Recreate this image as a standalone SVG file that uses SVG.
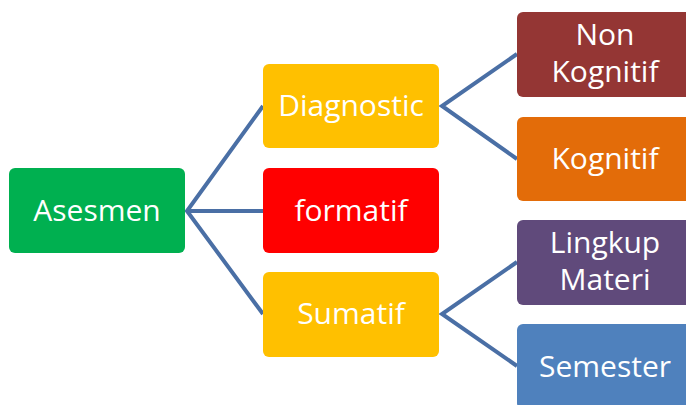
<svg xmlns="http://www.w3.org/2000/svg" width="686" height="405" viewBox="0 0 686 405">
<style>
.box{stroke:none}
.t{font-family:"Open Sans","Noto Sans","Liberation Sans",sans-serif;font-size:30px;fill:#ffffff;text-anchor:middle}
.c{stroke:#4a6fa5;stroke-width:4;fill:none;stroke-linejoin:miter}
</style>
<rect width="686" height="405" fill="#ffffff"/>
<g id="connectors">
<polyline class="c" points="263,106 187,211 263,314"/>
<line class="c" x1="187" y1="211" x2="263" y2="211"/>
<polyline class="c" points="517,54 442,106 517,159"/>
<polyline class="c" points="517,262 442,314 517,366"/>
</g>
<g id="asesmen"><rect class="box" x="9" y="168" width="176" height="85" rx="6" fill="#00b050"/><text class="t" x="97" y="221">Asesmen</text></g>
<g id="diagnostic"><rect class="box" x="263" y="64" width="176" height="84" rx="6" fill="#ffc000"/><text class="t" x="351" y="116">Diagnostic</text></g>
<g id="formatif"><rect class="box" x="263" y="168" width="176" height="85" rx="6" fill="#ff0000"/><text class="t" x="351" y="221">formatif</text></g>
<g id="sumatif"><rect class="box" x="263" y="272" width="176" height="85" rx="6" fill="#ffc000"/><text class="t" x="351" y="324">Sumatif</text></g>
<g id="nonkognitif"><rect class="box" x="517" y="12" width="176" height="85" rx="6" fill="#943634"/><text class="t" x="605" y="45">Non</text><text class="t" x="605" y="82">Kognitif</text></g>
<g id="kognitif"><rect class="box" x="517" y="117" width="176" height="84" rx="6" fill="#e36c09"/><text class="t" x="605" y="169">Kognitif</text></g>
<g id="lingkup"><rect class="box" x="517" y="220" width="176" height="85" rx="6" fill="#604a7b"/><text class="t" x="605" y="253">Lingkup</text><text class="t" x="605" y="290">Materi</text></g>
<g id="semester"><rect class="box" x="517" y="324" width="176" height="85" rx="6" fill="#4f81bd"/><text class="t" x="605" y="377">Semester</text></g>
</svg>
